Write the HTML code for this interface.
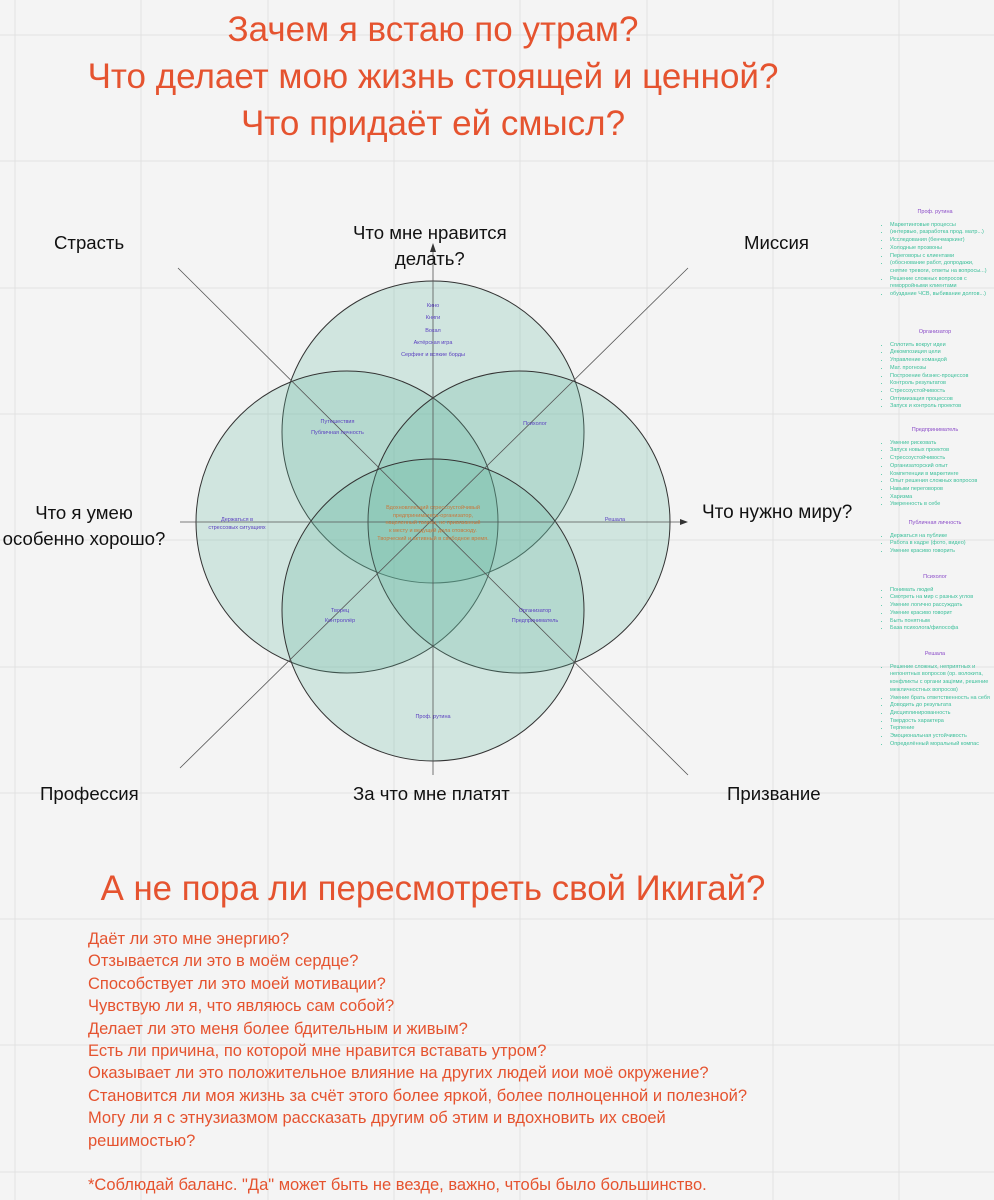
<!DOCTYPE html>
<html><head><meta charset="utf-8"><style>
body{margin:0;width:994px;height:1200px;overflow:hidden;background:#f4f4f4;font-family:"Liberation Sans","DejaVu Sans",sans-serif;position:relative}
.t{position:absolute;white-space:nowrap}
.h{color:#e5532f;font-size:35px;text-align:center;width:866px;left:0}
.lab{font-size:18.6px;color:#111;text-align:center}
.side{position:absolute;left:868px;width:124px;font-size:5.5px;line-height:7.7px;color:#3bbf9a}
.side .hd{color:#8b4cc8;text-align:center;margin:0 0 5px;padding-left:10px}
.side ul{margin:0;padding-left:22px;list-style:disc}
.q{position:absolute;left:88px;top:928px;color:#e5532f;font-size:16.5px;line-height:22.4px}
</style></head><body>
<svg width="994" height="1200" style="position:absolute;left:0;top:0">
<g stroke="#e2e2e2" stroke-width="1">
<line x1="15" y1="0" x2="15" y2="1200"/><line x1="141" y1="0" x2="141" y2="1200"/><line x1="268" y1="0" x2="268" y2="1200"/><line x1="394" y1="0" x2="394" y2="1200"/><line x1="520" y1="0" x2="520" y2="1200"/><line x1="647" y1="0" x2="647" y2="1200"/><line x1="773" y1="0" x2="773" y2="1200"/><line x1="899" y1="0" x2="899" y2="1200"/>
<line x1="0" y1="35" x2="994" y2="35"/><line x1="0" y1="161" x2="994" y2="161"/><line x1="0" y1="288" x2="994" y2="288"/><line x1="0" y1="414" x2="994" y2="414"/><line x1="0" y1="540" x2="994" y2="540"/><line x1="0" y1="667" x2="994" y2="667"/><line x1="0" y1="793" x2="994" y2="793"/><line x1="0" y1="919" x2="994" y2="919"/><line x1="0" y1="1045" x2="994" y2="1045"/><line x1="0" y1="1172" x2="994" y2="1172"/>
</g>
<g fill="rgba(100,185,160,0.25)" stroke="#333" stroke-width="1">
<circle cx="433" cy="432" r="151"/>
<circle cx="347" cy="522" r="151"/>
<circle cx="519" cy="522" r="151"/>
<circle cx="433" cy="610" r="151"/>
</g>
<g stroke="#555" stroke-width="0.8">
<line x1="433" y1="250" x2="433" y2="775"/>
<line x1="180" y1="522" x2="682" y2="522"/>
<line x1="178" y1="268" x2="688" y2="775"/>
<line x1="688" y1="268" x2="180" y2="768"/>
</g>
<polygon points="433,243 430,252 436,252" fill="#333"/>
<polygon points="688,522 680,519 680,525" fill="#333"/>
</svg>
<div class="t h" style="top:10px">Зачем я встаю по утрам?</div>
<div class="t h" style="top:57px">Что делает мою жизнь стоящей и ценной?</div>
<div class="t h" style="top:104px">Что придаёт ей смысл?</div>
<div class="t lab" style="left:54px;top:232px">Страсть</div>
<div class="t lab" style="left:353px;top:220px;line-height:26px">Что мне нравится<br>делать?</div>
<div class="t lab" style="left:744px;top:232px">Миссия</div>
<div class="t lab" style="left:-16px;top:500px;line-height:26px;width:200px;text-align:center">Что я умею<br>особенно хорошо?</div>
<div class="t lab" style="left:702px;top:502px;font-size:19px">Что нужно миру?</div>
<div class="t lab" style="left:40px;top:783px">Профессия</div>
<div class="t lab" style="left:353px;top:783px">За что мне платят</div>
<div class="t lab" style="left:727px;top:783px">Призвание</div>
<div class="t" style="left:0;width:866px;top:300px;font-size:5.5px;line-height:12.3px;color:#5a3fc0;text-align:center">Кино<br>Книги<br>Вокал<br>Актёрская игра<br>Серфинг и всякие борды</div>
<div class="t" style="left:300px;width:75px;top:417px;font-size:5.5px;line-height:11px;color:#5a3fc0;text-align:center">Путешествия<br>Публичная личность</div>
<div class="t" style="left:510px;width:50px;top:421px;font-size:5.5px;color:#5a3fc0;text-align:center">Психолог</div>
<div class="t" style="left:197px;width:80px;top:517px;font-size:5.5px;line-height:7.5px;color:#5a3fc0;text-align:center">Держаться в<br>стрессовых ситуациях</div>
<div class="t" style="left:600px;width:30px;top:517px;font-size:5.5px;color:#5a3fc0;text-align:center">Решала</div>
<div class="t" style="left:360px;width:146px;top:505px;font-size:5.5px;line-height:7.7px;color:#c9773a;text-align:center">Вдохновляющий стрессоустойчивый<br>предприниматель-организатор,<br>нацеленный творец, не привязанный<br>к месту и ведущий дела отовсюду.<br>Творческий и активный в свободное время.</div>
<div class="t" style="left:310px;width:60px;top:606px;font-size:5.5px;line-height:10px;color:#5a3fc0;text-align:center">Творец<br>Контроллёр</div>
<div class="t" style="left:500px;width:70px;top:606px;font-size:5.5px;line-height:10px;color:#5a3fc0;text-align:center">Организатор<br>Предприниматель</div>
<div class="t" style="left:403px;width:60px;top:714px;font-size:5.5px;color:#5a3fc0;text-align:center">Проф. рутина</div>
<div class="side" style="top:209px">
<div class="hd">Проф. рутина</div>
<ul><li>Маркетинговые процессы</li><li>(интервью, разработка прод. матр...)</li><li>Исследования (бенчмаркинг)</li><li>Холодные прозвоны</li><li>Переговоры с клиентами</li><li>(обоснование работ, допродажи, снятие тревоги, ответы на вопросы...)</li><li>Решение сложных вопросов с геморройными клиентами</li><li>обуздание ЧСВ, выбивание долгов...)</li></ul></div>
<div class="side" style="top:329px">
<div class="hd">Организатор</div>
<ul><li>Сплотить вокруг идеи</li><li>Декомпозиция цели</li><li>Управление командой</li><li>Мат. прогнозы</li><li>Построение бизнес-процессов</li><li>Контроль результатов</li><li>Стрессоустойчивость</li><li>Оптимизация процессов</li><li>Запуск и контроль проектов</li></ul></div>
<div class="side" style="top:427px">
<div class="hd">Предприниматель</div>
<ul><li>Умение рисковать</li><li>Запуск новых проектов</li><li>Стрессоустойчивость</li><li>Организаторский опыт</li><li>Компетенции в маркетинге</li><li>Опыт решения сложных вопросов</li><li>Навыки переговоров</li><li>Харизма</li><li>Уверенность в себе</li></ul></div>
<div class="side" style="top:520px">
<div class="hd">Публичная личность</div>
<ul><li>Держаться на публике</li><li>Работа в кадре (фото, видео)</li><li>Умение красиво говорить</li></ul></div>
<div class="side" style="top:574px">
<div class="hd">Психолог</div>
<ul><li>Понимать людей</li><li>Смотреть на мир с разных углов</li><li>Умение логично рассуждать</li><li>Умение красиво говорит</li><li>Быть понятным</li><li>База психолога/философа</li></ul></div>
<div class="side" style="top:651px">
<div class="hd">Решала</div>
<ul><li>Решение сложных, неприятных и непонятных вопросов (ор. волокита, конфликты с органи заціями, решение межличностных вопросов)</li><li>Умение брать ответственность на себя</li><li>Доводить до результата</li><li>Дисциплинированность</li><li>Твердость характера</li><li>Терпение</li><li>Эмоциональная устойчивость</li><li>Определённый моральный компас</li></ul></div>
<div class="t h" style="top:869px;font-size:34.8px">А не пора ли пересмотреть свой Икигай?</div>
<div class="q">Даёт ли это мне энергию?<br>Отзывается ли это в моём сердце?<br>Способствует ли это моей мотивации?<br>Чувствую ли я, что являюсь сам собой?<br>Делает ли это меня более бдительным и живым?<br>Есть ли причина, по которой мне нравится вставать утром?<br>Оказывает ли это положительное влияние на других людей иои моё окружение?<br>Становится ли моя жизнь за счёт этого более яркой, более полноценной и полезной?<br>Могу ли я с этнузиазмом рассказать другим об этим и вдохновить их своей<br>решимостью?<br><br>*Соблюдай баланс. "Да" может быть не везде, важно, чтобы было большинство.</div>
</body></html>
